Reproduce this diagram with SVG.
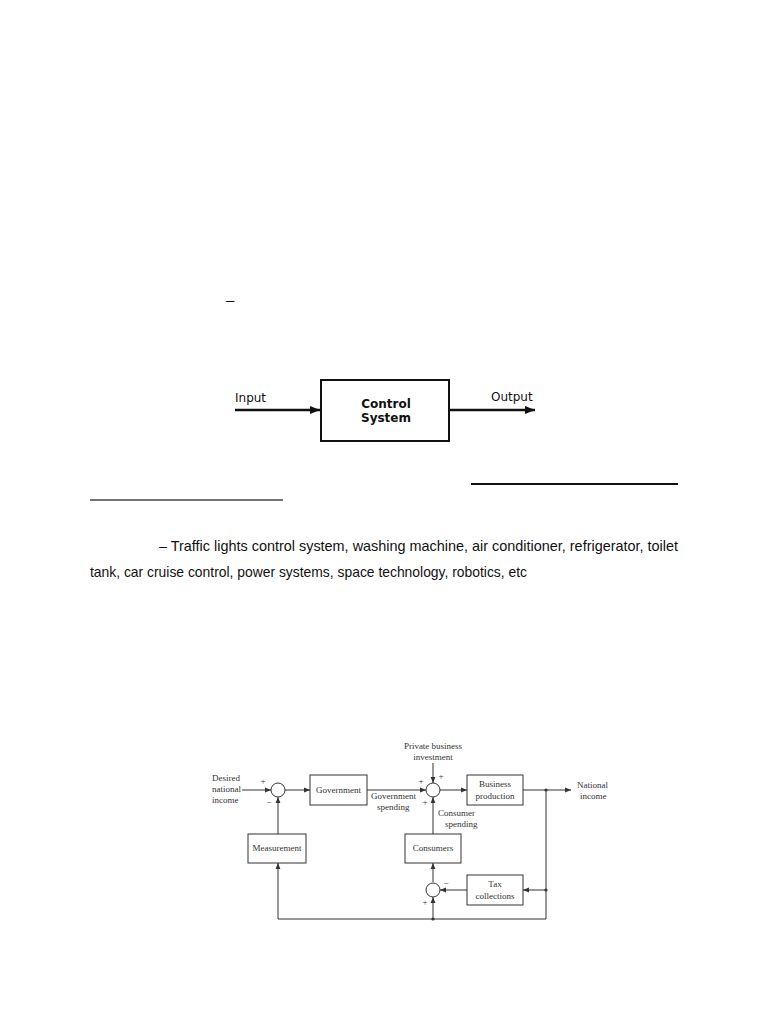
<svg xmlns="http://www.w3.org/2000/svg" width="768" height="1024" viewBox="0 0 768 1024">
<style>
.top{font-family:"DejaVu Sans",Verdana,sans-serif;font-size:12px;fill:#111}
.topb{font-family:"DejaVu Sans",Verdana,sans-serif;font-size:12px;font-weight:bold;fill:#111}
.body{font-family:"Liberation Sans Narrow","Arial Narrow","Liberation Sans",Arial,sans-serif;font-size:15px;fill:#111}
.bd{font-family:"Liberation Serif","Times New Roman",serif;font-size:9px;fill:#333}
.tbox{fill:#fff;stroke:#111;stroke-width:2}
.bbox{fill:#fff;stroke:#333;stroke-width:1}
.sum{fill:#fff;stroke:#333;stroke-width:1}
.c{fill:none;stroke:#333;stroke-width:1}
.ct{fill:none;stroke:#111;stroke-width:2.5}
.rule{stroke:#111;stroke-width:2}
</style>
<defs>
<marker id="ah" viewBox="0 0 10 10" refX="10" refY="5" markerWidth="6" markerHeight="6" markerUnits="userSpaceOnUse" orient="auto"><path d="M0,1 L10,5 L0,9 z" fill="#333"/></marker>
<marker id="ahb" viewBox="0 0 10 10" refX="10" refY="5" markerWidth="10" markerHeight="10" markerUnits="userSpaceOnUse" orient="auto"><path d="M0,1 L10,5 L0,9 z" fill="#111"/></marker>
</defs>
<rect width="768" height="1024" fill="#fff"/>

<text class="body" x="226" y="305">–</text>

<!-- Top diagram -->
<g id="conn-top">
<path class="ct" d="M235,410 L320,410" marker-end="url(#ahb)"/>
<path class="ct" d="M449,410 L535,410" marker-end="url(#ahb)"/>
</g>
<g id="control-system">
<rect class="tbox" x="321" y="380" width="128" height="61"/>
<text class="topb" x="386" y="408" text-anchor="middle">Control</text>
<text class="topb" x="386" y="422" text-anchor="middle">System</text>
</g>
<text class="top" x="235" y="402">Input</text>
<text class="top" x="491" y="401">Output</text>

<!-- Rules -->
<line class="rule" x1="471" y1="484" x2="678" y2="484"/>
<line x1="90" y1="500" x2="283" y2="500" stroke="#444" stroke-width="1.3"/>

<text class="body" x="159" y="551" textLength="519" lengthAdjust="spacingAndGlyphs">– Traffic lights control system, washing machine, air conditioner, refrigerator, toilet</text>
<text class="body" x="90" y="577" textLength="437" lengthAdjust="spacingAndGlyphs">tank, car cruise control, power systems, space technology, robotics, etc</text>

<!-- Block diagram -->
<g id="connectors">
<path class="c" d="M242,790 L271,790" marker-end="url(#ah)"/>
<path class="c" d="M285,790 L310,790" marker-end="url(#ah)"/>
<path class="c" d="M367,790 L426,790" marker-end="url(#ah)"/>
<path class="c" d="M433,763 L433,783" marker-end="url(#ah)"/>
<path class="c" d="M440,790 L467,790" marker-end="url(#ah)"/>
<path class="c" d="M523,790 L571,790" marker-end="url(#ah)"/>
<path class="c" d="M546,790 L546,919 L278,919 L278,863" marker-end="url(#ah)"/>
<path class="c" d="M278,834 L278,797" marker-end="url(#ah)"/>
<path class="c" d="M546,890 L523,890" marker-end="url(#ah)"/>
<path class="c" d="M467,890 L440,890" marker-end="url(#ah)"/>
<path class="c" d="M433,919 L433,897" marker-end="url(#ah)"/>
<path class="c" d="M433,882 L433,863" marker-end="url(#ah)"/>
<path class="c" d="M433,834 L433,797" marker-end="url(#ah)"/>
<circle cx="546" cy="790" r="1.6" fill="#333"/>
<circle cx="546" cy="890" r="1.6" fill="#333"/>
<circle cx="433" cy="919" r="1.6" fill="#333"/>
</g>

<g id="sum1">
<circle class="sum" cx="278" cy="790" r="7"/>
<text class="bd" x="263" y="784" text-anchor="middle">+</text>
<text class="bd" x="269" y="805" text-anchor="middle">−</text>
</g>
<g id="sum2">
<circle class="sum" cx="433" cy="790" r="7"/>
<text class="bd" x="441" y="779" text-anchor="middle">+</text>
<text class="bd" x="421" y="784" text-anchor="middle">+</text>
<text class="bd" x="425" y="805" text-anchor="middle">+</text>
</g>
<g id="sum3">
<circle class="sum" cx="433" cy="890" r="7"/>
<text class="bd" x="446" y="886" text-anchor="middle">−</text>
<text class="bd" x="425" y="905" text-anchor="middle">+</text>
</g>

<g id="government">
<rect class="bbox" x="310" y="775" width="57" height="30"/>
<text class="bd" x="338.5" y="793" text-anchor="middle">Government</text>
</g>
<g id="business-production">
<rect class="bbox" x="467" y="775" width="56" height="30"/>
<text class="bd" x="495" y="787" text-anchor="middle">Business</text>
<text class="bd" x="495" y="799" text-anchor="middle">production</text>
</g>
<g id="measurement">
<rect class="bbox" x="248" y="834" width="58" height="29"/>
<text class="bd" x="277" y="851" text-anchor="middle">Measurement</text>
</g>
<g id="consumers">
<rect class="bbox" x="405" y="834" width="56" height="29"/>
<text class="bd" x="433" y="851" text-anchor="middle">Consumers</text>
</g>
<g id="tax-collections">
<rect class="bbox" x="467" y="875" width="56" height="30"/>
<text class="bd" x="495" y="887" text-anchor="middle">Tax</text>
<text class="bd" x="495" y="899" text-anchor="middle">collections</text>
</g>

<g id="labels">
<text class="bd" x="212" y="781">Desired</text>
<text class="bd" x="212" y="792">national</text>
<text class="bd" x="212" y="803">income</text>
<text class="bd" x="433" y="749" text-anchor="middle">Private business</text>
<text class="bd" x="433" y="760" text-anchor="middle">investment</text>
<text class="bd" x="371" y="799">Government</text>
<text class="bd" x="377" y="810">spending</text>
<text class="bd" x="438" y="816">Consumer</text>
<text class="bd" x="445" y="827">spending</text>
<text class="bd" x="577" y="788">National</text>
<text class="bd" x="580" y="799">income</text>
</g>
</svg>
